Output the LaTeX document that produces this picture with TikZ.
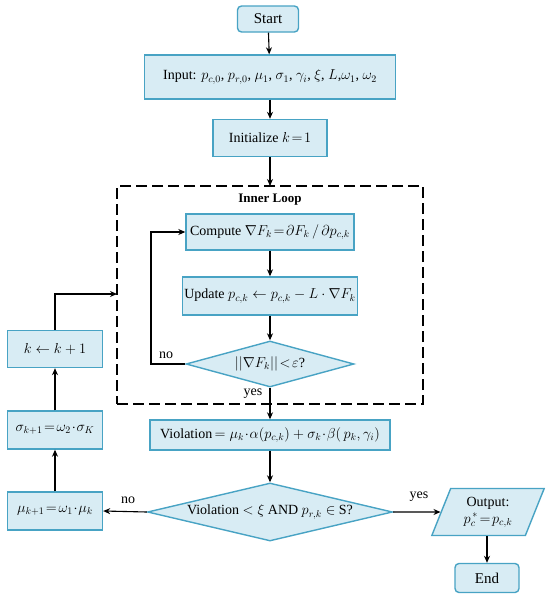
\documentclass[tikz,border=0pt]{standalone}
\usepackage{fontspec}
\setmainfont{Liberation Serif}
\usetikzlibrary{shapes.geometric,arrows.meta}
\definecolor{boxfill}{RGB}{216,236,244}
\definecolor{boxline}{RGB}{72,163,196}
\begin{document}
\begin{tikzpicture}[x=1pt,y=-1pt,
  every node/.style={font=\fontsize{14}{16}\selectfont},
  proc/.style={draw=boxline,fill=boxfill,line width=1.4pt,inner sep=2pt,align=center},
  term/.style={proc,rounded corners=4pt},
  dec/.style={draw=boxline,fill=boxfill,line width=1.4pt,diamond,inner sep=0pt,align=center},
  io/.style={draw=boxline,fill=boxfill,line width=1.4pt,trapezium,trapezium left angle=68,trapezium right angle=112,trapezium stretches=true,inner sep=0pt,align=center},
  arr/.style={-{Stealth[length=7pt,width=6pt]},line width=1.1pt,black},
  lbl/.style={font=\fontsize{14}{16}\selectfont}
]
\useasboundingbox (0,0) rectangle (550,597);
\node[term,minimum width=61,minimum height=26,font=\fontsize{15}{17}\selectfont] (start) at (268,19) {Start};
\node[proc,minimum width=251,minimum height=44] (input) at (270,77) {Input: $p_{c,0}$, $p_{r,0}$, $\mu_1$, $\sigma_1$, $\gamma_i$, $\xi$, $L$,$\omega_1$, $\omega_2$};
\node[proc,minimum width=114,minimum height=37] (init) at (270,138) {Initialize $k\!=\!1$};
\node[draw,dashed,dash pattern=on 11pt off 5pt,line width=1.5pt,minimum width=306,minimum height=218,inner sep=0pt] (loop) at (270,295) {};
\node[font=\fontsize{13}{15}\selectfont\bfseries] (looplbl) at (270,200) {Inner Loop};
\node[proc,minimum width=168,minimum height=36] (comp) at (270,232) {Compute $\nabla F_k\!=\!\partial F_k\,/\,\partial p_{c,k}$};
\node[proc,minimum width=168,minimum height=38] (upd) at (270,296) {Update $p_{c,k}\leftarrow p_{c,k}-L\cdot\nabla F_k$};
\node[dec,aspect=3.65,minimum width=168,minimum height=46] (d1) at (270,364) {$||\nabla F_k||\!<\!\varepsilon$?};
\node[proc,minimum width=240,minimum height=30] (viol) at (270,435) {Violation$\,=\mu_k\!\cdot\!\alpha(p_{c,k})+\sigma_k\!\cdot\!\beta(\,p_k,\gamma_i)$};
\node[dec,aspect=4.22,minimum width=245,minimum height=58] (d2) at (270,512) {Violation $<\xi$ AND $p_{r,k}\in$ S?};
\node[proc,minimum width=95,minimum height=38] (mu) at (55,511) {$\mu_{k+1}\!=\!\omega_1\!\cdot\!\mu_k$};
\node[proc,minimum width=95,minimum height=38] (sig) at (55,430) {$\sigma_{k+1}\!=\!\omega_2\!\cdot\!\sigma_K$};
\node[proc,minimum width=95,minimum height=37] (kk) at (55,349) {$k\leftarrow k+1$};
\node[io,minimum width=113,minimum height=47] (out) at (488,512) {Output:\\[1pt]$p_c^{\,*}\!=\!p_{c,k}$};
\node[term,minimum width=64,minimum height=29,font=\fontsize{15}{17}\selectfont] (end) at (487,578) {End};
\coordinate (looptop) at (270,186);
\coordinate (loopleft) at (117,294);
\coordinate (c1) at (151,364);
\coordinate (c2) at (151,232);
\coordinate (c3) at (55,294);
\draw[arr] (start) -- (input);
\draw[arr] (input) -- (init);
\draw[arr] (init) -- (looptop);
\draw[arr] (comp) -- (upd);
\draw[arr] (upd) -- (d1);
\draw[arr] (d1.west) -- (c1) -- (c2) -- (comp.west);
\draw[arr] (d1.south) -- (viol.north);
\draw[arr] (viol) -- (d2);
\draw[arr] (d2.west) -- (mu.east);
\draw[arr] (mu) -- (sig);
\draw[arr] (sig) -- (kk);
\draw[arr] (kk.north) -- (c3) -- (loopleft);
\draw[arr] (d2.east) -- (out.west);
\draw[arr] (end.north |- out.south) -- (end.north);
\node[lbl] (no1) at (166,355) {no};
\node[lbl] (yes1) at (253,394) {yes};
\node[lbl] (no2) at (128,500) {no};
\node[lbl] (yes2) at (419,497) {yes};
\end{tikzpicture}
\end{document}
